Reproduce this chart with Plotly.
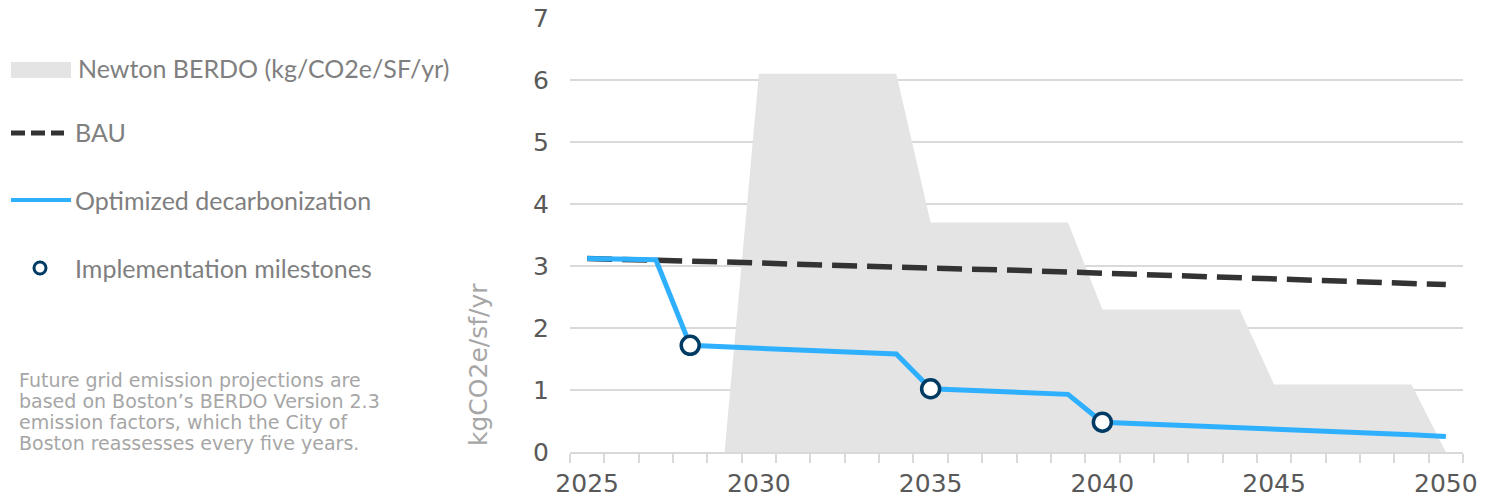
import plotly.graph_objects as go

years = list(range(2025, 2051))
berdo = [0, 0, 0, 0, 0,
         6.1, 6.1, 6.1, 6.1, 6.1,
         3.7, 3.7, 3.7, 3.7, 3.7,
         2.3, 2.3, 2.3, 2.3, 2.3,
         1.09, 1.09, 1.09, 1.09, 1.09,
         0]
bau = [3.12, 3.11, 3.09, 3.08, 3.06, 3.05, 3.03, 3.01, 3.00, 2.98,
       2.96, 2.95, 2.94, 2.92, 2.91, 2.90, 2.88, 2.86, 2.84, 2.82,
       2.80, 2.78, 2.76, 2.74, 2.72, 2.70]
optimized = [3.12, 3.11, 3.10, 1.72, 1.70, 1.68, 1.66, 1.63, 1.61, 1.58,
             1.02, 1.00, 0.98, 0.95, 0.93, 0.48, 0.46, 0.44, 0.42, 0.40,
             0.38, 0.35, 0.33, 0.30, 0.28, 0.25]
milestone_years = [2028, 2035, 2040]
milestone_vals = [1.72, 1.02, 0.48]

x_ticks = [2025, 2030, 2035, 2040, 2045, 2050]
y_ticks = [0, 1, 2, 3, 4, 5, 6, 7]

legend_labels = ["Newton BERDO (kg/CO2e/SF/yr)", "BAU",
                 "Optimized decarbonization", "Implementation milestones"]
note_lines = ["Future grid emission projections are",
              "based on Boston’s BERDO Version 2.3",
              "emission factors, which the City of",
              "Boston reassesses every five years."]
y_title = "kgCO2e/sf/yr"

W, H = 1494, 499
L, R, T, B = 570, 31, 18, 47
PW, PH = W - L - R, H - T - B


def px(x):
    return (x - L) / PW


def py(y):
    return (H - B - y) / PH


fig = go.Figure()
fig.add_trace(go.Scatter(x=years, y=berdo, mode="lines", fill="tozeroy",
                         fillcolor="#e4e4e4", line=dict(width=0, color="#e4e4e4"),
                         name=legend_labels[0], showlegend=False, hoverinfo="skip"))
fig.add_trace(go.Scatter(x=years, y=bau, mode="lines",
                         line=dict(color="#333333", width=5.5, dash="25px,10px"),
                         name=legend_labels[1], showlegend=False))
fig.add_trace(go.Scatter(x=years, y=optimized, mode="lines",
                         line=dict(color="#2eb0ff", width=5),
                         name=legend_labels[2], showlegend=False))
fig.add_trace(go.Scatter(x=milestone_years, y=milestone_vals, mode="markers",
                         marker=dict(size=18, color="white",
                                     line=dict(color="#003b63", width=3.5)),
                         name=legend_labels[3], showlegend=False))

# manual legend
legend_font = dict(family="Lato, Carlito, sans-serif", size=25, color="#7f7f7f")
shapes = [
    dict(type="rect", xref="paper", yref="paper", x0=px(11), x1=px(71),
         y0=py(78), y1=py(62), fillcolor="#e4e4e4", line=dict(width=0)),
    dict(type="line", xref="paper", yref="paper", x0=px(11), x1=px(64),
         y0=py(133), y1=py(133), line=dict(color="#333333", width=5, dash="14px,6px")),
    dict(type="line", xref="paper", yref="paper", x0=px(11), x1=px(71),
         y0=py(200), y1=py(200), line=dict(color="#2eb0ff", width=4)),
    dict(type="circle", xref="paper", yref="paper", x0=px(34), x1=px(46),
         y0=py(274), y1=py(262), fillcolor="white", line=dict(color="#003b63", width=3)),
]
annotations = []
for lbl, xx, yy in zip(legend_labels, [76, 73, 73, 73], [68, 132, 200, 268]):
    annotations.append(dict(text=lbl, xref="paper", yref="paper", x=px(xx), y=py(yy),
                            xanchor="left", yanchor="middle", showarrow=False,
                            font=legend_font))
for i, line in enumerate(note_lines):
    annotations.append(dict(text=line, xref="paper", yref="paper", x=px(17),
                            y=py(380 + 21 * i), xanchor="left", yanchor="middle",
                            align="left", showarrow=False,
                            font=dict(family="DejaVu Sans", size=19, color="#a6a6a6")))
annotations.append(dict(text=y_title, xref="paper", yref="paper", x=px(478), y=py(365),
                        xanchor="center", yanchor="middle", textangle=-90, showarrow=False,
                        font=dict(family="DejaVu Sans", size=25, color="#a6a6a6")))

fig.update_layout(
    width=W, height=H, margin=dict(l=L, r=R, t=T, b=B, autoexpand=False),
    paper_bgcolor="white", plot_bgcolor="white",
    shapes=shapes, annotations=annotations, showlegend=False,
    xaxis=dict(range=[2024.5, 2050.5], tickmode="array", tickvals=x_ticks,
               ticks="", showgrid=False, zeroline=False, automargin=False,
               showline=True, linecolor="#d9d9d9", linewidth=2,
               tickfont=dict(family="DejaVu Sans", size=25, color="#595959"),
               ticklabelstandoff=8,
               minor=dict(tickmode="linear", tick0=2024.5, dtick=1, ticks="outside",
                          ticklen=9, tickcolor="#d9d9d9", tickwidth=2, showgrid=False)),
    yaxis=dict(range=[0, 7], tickvals=y_ticks, showgrid=True, gridcolor="#d9d9d9",
               gridwidth=2, zeroline=False, showline=False, ticks="", automargin=False,
               tickfont=dict(family="DejaVu Sans", size=25, color="#595959"),
               ticklabelstandoff=20),
)

fig.write_html("out.html")
